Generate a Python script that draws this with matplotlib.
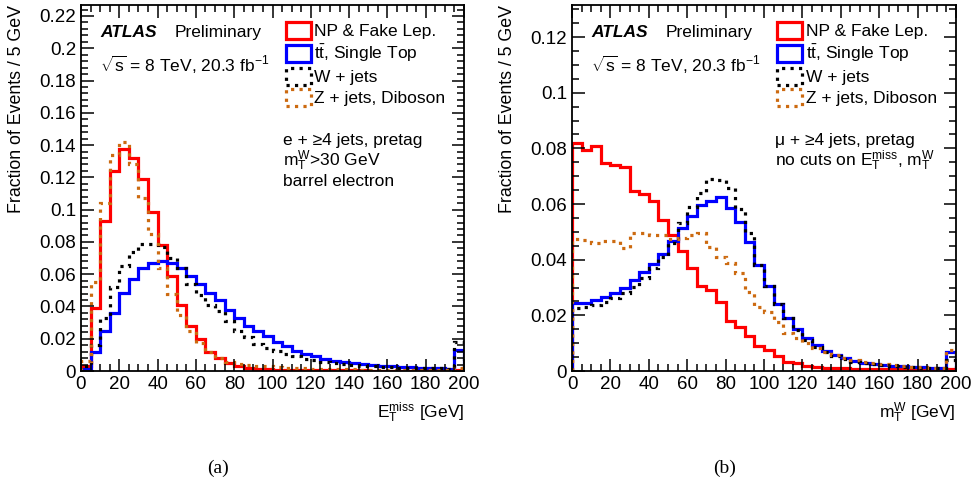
import matplotlib
matplotlib.use('Agg')
import matplotlib.pyplot as plt
import numpy as np
from matplotlib.patches import Patch
from matplotlib.ticker import MultipleLocator, FuncFormatter

plt.rcParams['font.family'] = ['Liberation Sans', 'DejaVu Sans']
plt.rcParams['mathtext.fontset'] = 'custom'
plt.rcParams['mathtext.rm'] = 'Liberation Sans'
plt.rcParams['mathtext.it'] = 'Liberation Sans:italic'
plt.rcParams['mathtext.bf'] = 'Liberation Sans:bold'

# bin edges, 5 GeV bins from 0 to 200
edges = np.arange(0, 205, 5)

# (a) MET, electron channel
met_np = [0.003, 0.039, 0.093, 0.124, 0.1375, 0.132, 0.119, 0.0985, 0.078, 0.059,
          0.041, 0.028, 0.020, 0.012, 0.0083, 0.0052, 0.003, 0.0017, 0.0012, 0.0010,
          0.0009, 0.0008, 0.0007, 0.0006, 0.0006, 0.0005, 0.0005, 0.0004, 0.0004, 0.0004,
          0.0003, 0.0003, 0.0003, 0.0003, 0.0003, 0.0002, 0.0002, 0.0002, 0.0002, 0.0005]
met_top = [0.001, 0.0115, 0.0246, 0.036, 0.0485, 0.057, 0.064, 0.0669, 0.068, 0.067,
           0.064, 0.059, 0.054, 0.0485, 0.044, 0.038, 0.033, 0.028, 0.0246, 0.0215,
           0.018, 0.0152, 0.0127, 0.0108, 0.009, 0.0075, 0.0063, 0.0054, 0.0048, 0.0042,
           0.0037, 0.0033, 0.0029, 0.0025, 0.0023, 0.0021, 0.0019, 0.0017, 0.0015, 0.013]
met_wjets = [0.003, 0.016, 0.033, 0.052, 0.065, 0.0735, 0.079, 0.0788, 0.077, 0.070,
             0.064, 0.054, 0.047, 0.041, 0.037, 0.031, 0.0246, 0.0208, 0.0169, 0.0142,
             0.0121, 0.0104, 0.009, 0.0077, 0.0067, 0.0058, 0.005, 0.0044, 0.0037, 0.0033,
             0.0029, 0.0025, 0.0023, 0.0021, 0.0019, 0.0018, 0.0017, 0.0016, 0.0015, 0.0177]
met_zjets = [0.006, 0.055, 0.104, 0.134, 0.1417, 0.128, 0.107, 0.085, 0.064, 0.0475,
             0.035, 0.0246, 0.0173, 0.0115, 0.008, 0.0058, 0.0042, 0.0037, 0.0033, 0.0028,
             0.0024, 0.002, 0.0018, 0.0016, 0.0014, 0.0013, 0.0012, 0.0011, 0.001, 0.0009,
             0.0009, 0.0008, 0.0008, 0.0007, 0.0007, 0.0007, 0.0006, 0.0006, 0.0006, 0.002]

# (b) mTW, muon channel
mtw_np = [0.082, 0.0793, 0.0807, 0.0747, 0.074, 0.0733, 0.0645, 0.0636, 0.0611, 0.0542,
          0.049, 0.043, 0.0369, 0.0305, 0.0291, 0.0249, 0.0181, 0.0159, 0.0126, 0.0091,
          0.0075, 0.0055, 0.0034, 0.0028, 0.0019, 0.0016, 0.0012, 0.001, 0.0009, 0.0008,
          0.0008, 0.0007, 0.0007, 0.0006, 0.0006, 0.0005, 0.0005, 0.0005, 0.0005, 0.0006]
mtw_top = [0.0246, 0.0246, 0.0255, 0.0267, 0.0281, 0.0297, 0.0327, 0.0357, 0.0384, 0.042,
           0.0468, 0.0513, 0.0557, 0.0596, 0.0612, 0.0624, 0.0587, 0.0534, 0.0465, 0.0381,
           0.0305, 0.0241, 0.0189, 0.0151, 0.0117, 0.0093, 0.0073, 0.0057, 0.0046, 0.0037,
           0.003, 0.0025, 0.0022, 0.0019, 0.0017, 0.0014, 0.0013, 0.0012, 0.001, 0.0067]
mtw_wjets = [0.0225, 0.0229, 0.0237, 0.0249, 0.0261, 0.0279, 0.0303, 0.0333, 0.0369, 0.0411,
             0.0459, 0.0533, 0.0588, 0.0638, 0.0689, 0.0685, 0.0656, 0.0581, 0.0495, 0.0381,
             0.0305, 0.0241, 0.0189, 0.0147, 0.0111, 0.0087, 0.0069, 0.0054, 0.0042, 0.0034,
             0.0028, 0.0024, 0.002, 0.0018, 0.0016, 0.0013, 0.0012, 0.0011, 0.001, 0.004]
mtw_zjets = [0.0473, 0.0471, 0.0459, 0.0467, 0.0467, 0.0441, 0.0495, 0.0495, 0.0489, 0.0489,
             0.0473, 0.0477, 0.0489, 0.0495, 0.0447, 0.0411, 0.0387, 0.0351, 0.0285, 0.0231,
             0.0213, 0.0177, 0.0135, 0.0117, 0.0099, 0.0084, 0.0069, 0.0057, 0.0048, 0.004,
             0.0034, 0.0028, 0.0024, 0.002, 0.0018, 0.0016, 0.0014, 0.0012, 0.0011, 0.0075]

labels = ['NP & Fake Lep.', r'$\mathrm{t\bar{t}}$, Single Top', 'W + jets', 'Z + jets, Diboson']
colors = ['#ff0000', '#0000ff', '#000000', '#cc6a10']
styles = ['-', '-', ':', ':']
LW = 2.3
FS = 12.5

fig = plt.figure(figsize=(9.71, 4.9), dpi=100)
ax1 = fig.add_axes([81/971, 119/490, 383/971, 366/490])
ax2 = fig.add_axes([572/971, 119/490, 384/971, 366/490])


def draw(ax, series, ymax, yminor, xlabel, cuts):
    for vals, c, ls in zip(series, colors, styles):
        ax.stairs(vals, edges, color=c, linestyle=ls, linewidth=LW)
    ax.set_xlim(0, 200)
    ax.set_ylim(0, ymax)
    ax.xaxis.set_major_locator(MultipleLocator(20))
    ax.xaxis.set_minor_locator(MultipleLocator(5))
    ax.yaxis.set_major_locator(MultipleLocator(0.02))
    ax.yaxis.set_minor_locator(MultipleLocator(yminor))
    ax.yaxis.set_major_formatter(FuncFormatter(lambda v, p: f'{v:g}'))
    ax.tick_params(which='both', direction='in', top=True, right=True, labelsize=13.5, width=1.1)
    ax.tick_params(which='major', length=9)
    ax.tick_params(which='minor', length=5)
    for s in ax.spines.values():
        s.set_linewidth(1.3)
    ax.set_xlabel(xlabel, fontsize=FS, ha='right')
    ax.xaxis.set_label_coords(1.0, -0.082)
    ax.set_ylabel('Fraction of Events / 5 GeV', fontsize=12.8, ha='right')
    ax.yaxis.set_label_coords(-0.145, 1.0)

    ax.text(0.05, 0.9235, 'ATLAS', fontsize=FS, fontweight='bold', style='italic',
            transform=ax.transAxes, va='center')
    ax.text(0.245, 0.9235, 'Preliminary', fontsize=FS, transform=ax.transAxes, va='center')
    ax.text(0.05, 0.835, r'$\sqrt{\mathrm{s}}$ = 8 TeV, 20.3 fb$^{\mathrm{-1}}$', fontsize=FS,
            transform=ax.transAxes, va='center')
    for i, t in enumerate(cuts):
        ax.text(0.528, 0.631 - i*0.057, t, fontsize=FS, transform=ax.transAxes, va='center')

    handles = [Patch(facecolor='none', edgecolor=c, linestyle=ls, linewidth=LW)
               for c, ls in zip(colors, styles)]
    ax.legend(handles, labels, loc='upper left', bbox_to_anchor=(0.535, 0.954),
              frameon=False, fontsize=FS, handlelength=1.42, handleheight=1.1,
              handletextpad=0.2, labelspacing=0.22, borderpad=0, borderaxespad=0)


draw(ax1, [met_np, met_top, met_wjets, met_zjets], 0.2268, 0.004,
     r'E$_{\mathrm{T}}^{\mathrm{miss}}$ [GeV]',
     ['e + ≥4 jets, pretag', r'm$_{\mathrm{T}}^{\mathrm{W}}$>30 GeV', 'barrel electron'])
draw(ax2, [mtw_np, mtw_top, mtw_wjets, mtw_zjets], 0.1315, 0.005,
     r'm$_{\mathrm{T}}^{\mathrm{W}}$ [GeV]',
     ['μ + ≥4 jets, pretag',
      r'no cuts on E$_{\mathrm{T}}^{\mathrm{miss}}$, m$_{\mathrm{T}}^{\mathrm{W}}$'])

fig.text(218/971, 1 - 468/490, '(a)', fontsize=14, family='Liberation Serif', ha='center', va='center')
fig.text(725/971, 1 - 468/490, '(b)', fontsize=14, family='Liberation Serif', ha='center', va='center')

fig.savefig('out.png', dpi=100)
